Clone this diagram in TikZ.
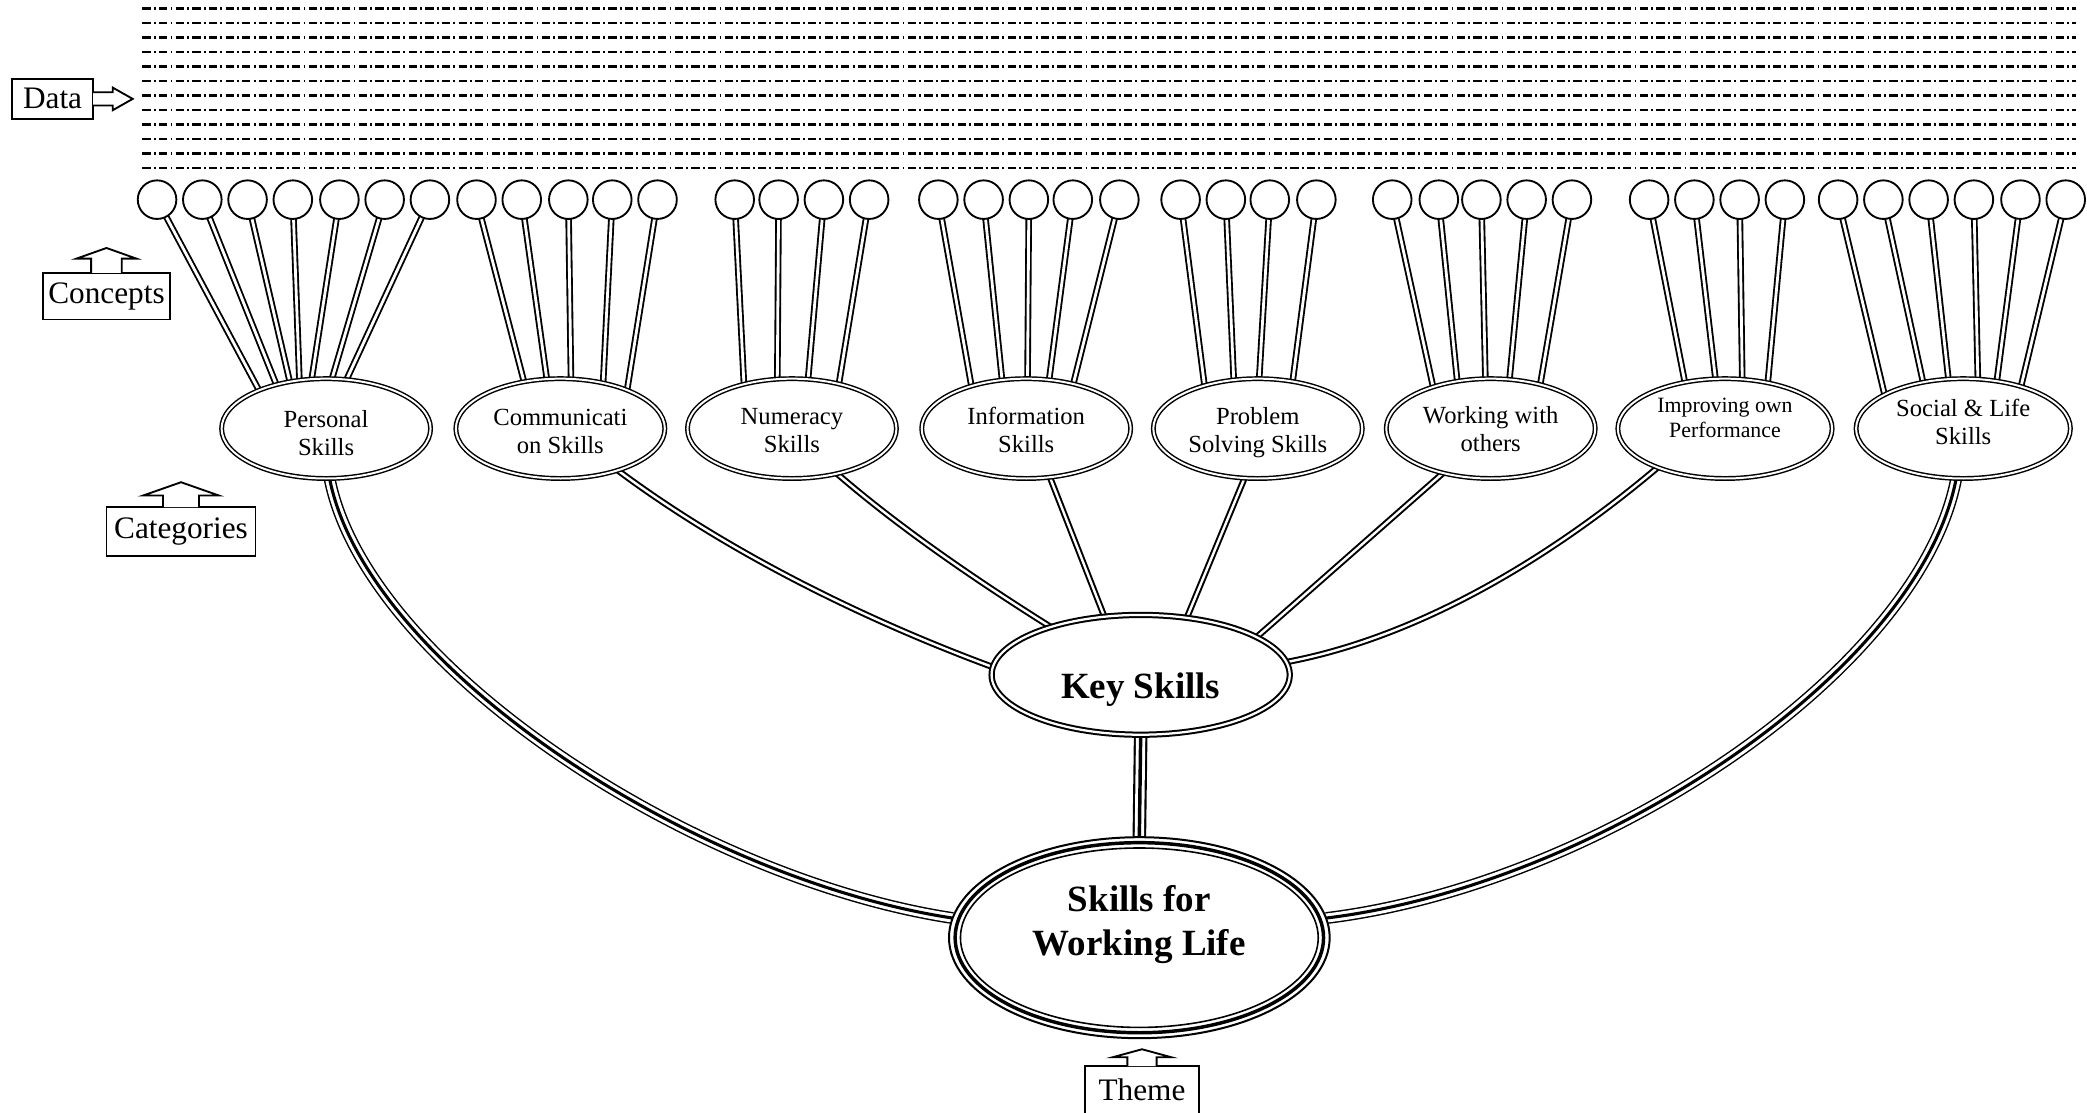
\documentclass[tikz,border=0pt]{standalone}
\usepackage{fontspec}
\setmainfont{Liberation Serif}
\usetikzlibrary{shapes.geometric,calc}
\pgfdeclarelayer{bg}
\pgfsetlayers{bg,main}
\newcommand\catfont{\fontsize{18.5}{21}\selectfont}
\newcommand\smcatfont{\fontsize{16.4}{19}\selectfont}
\newcommand\lblfont{\fontsize{23.5}{27}\selectfont}
\newcommand\bigfont{\fontsize{27.8}{33}\selectfont\bfseries}
\newcommand\cattext[2]{\raisebox{#1}[\height][\depth]{\begin{tabular}{@{}c@{}}#2\end{tabular}}}
\begin{document}
\begin{tikzpicture}[x=1pt,y=-1pt,
  concept/.style={circle, draw, line width=1.4pt, fill=white, minimum size=29pt, inner sep=0pt, outer sep=0pt},
  cat/.style={ellipse, draw, double, double distance=1.5pt, line width=1.1pt, fill=white,
     minimum width=157pt, minimum height=75pt, inner sep=0pt, outer sep=0pt, font=\catfont},
  keyn/.style={ellipse, draw, double, double distance=1.7pt, line width=1.5pt, fill=white,
     minimum width=224pt, minimum height=90pt, inner sep=0pt, outer sep=0pt, font=\bigfont},
  swln/.style={ellipse, draw, line width=1.5pt, fill=white,
     minimum width=286pt, minimum height=151pt, inner sep=0pt, outer sep=0pt, font=\bigfont},
  spoke/.style={double, double distance=2.1pt, line width=1.4pt, shorten >=-8pt},
  link/.style={double, double distance=1.8pt, line width=1.5pt},
  trunk/.style={double, double distance=6.8pt, line width=1.1pt},
  trunkmid/.style={line width=2.3pt},
  lbl/.style={draw, line width=1.4pt, fill=white, inner sep=0pt, font=\lblfont},
  lblarrow/.style={draw, line width=1.4pt, fill=white, line join=miter},
  dataline/.style={line width=2pt, dash pattern=on 6.2pt off 2.4pt on 1.4pt off 2.5pt}
]
\useasboundingbox (0,0) rectangle (1568,836);

% data lines
\foreach \k in {0,...,11}
  \draw[dataline] (107,{6.3+10.9*\k}) -- (1560,{6.3+10.9*\k});

% label boxes
\node[lbl, minimum width=61pt, minimum height=30pt] (dat) at (39.5,74.3) {Data};
\node[lbl, minimum width=96pt, minimum height=35pt] (cpt) at (80,222.5) {Concepts};
\node[lbl, minimum width=112pt, minimum height=37pt] (catl) at (136,399.5) {Categories};
\node[lbl, minimum width=86pt, minimum height=36pt] (thm) at (858,819) {Theme};

% label arrows
\filldraw[lblarrow] ($(dat.east)+(-0.7,-5)$) -- ($(dat.east)+(14,-5)$) -- ($(dat.east)+(14,-8.5)$)
  -- ($(dat.east)+(29,0)$) -- ($(dat.east)+(14,8.5)$) -- ($(dat.east)+(14,5)$) -- ($(dat.east)+(-0.7,5)$);
\filldraw[lblarrow] ($(cpt.north)+(-11.5,0.7)$) -- ($(cpt.north)+(-11.5,-10)$) -- ($(cpt.north)+(-22.5,-10)$)
  -- ($(cpt.north)+(0,-18)$) -- ($(cpt.north)+(22.5,-10)$) -- ($(cpt.north)+(11.5,-10)$) -- ($(cpt.north)+(11.5,0.7)$);
\filldraw[lblarrow] ($(catl.north)+(-13.5,0.7)$) -- ($(catl.north)+(-13.5,-8)$) -- ($(catl.north)+(-28.5,-8)$)
  -- ($(catl.north)+(0,-18)$) -- ($(catl.north)+(28.5,-8)$) -- ($(catl.north)+(13.5,-8)$) -- ($(catl.north)+(13.5,0.7)$);
\filldraw[lblarrow] ($(thm.north)+(-11,0.7)$) -- ($(thm.north)+(-11,-6)$) -- ($(thm.north)+(-22,-6)$)
  -- ($(thm.north)+(0,-12)$) -- ($(thm.north)+(22,-6)$) -- ($(thm.north)+(11,-6)$) -- ($(thm.north)+(11,0.7)$);

% concept circles
\foreach \x [count=\i] in {118,152,186,220,255,289,323, 358,392,427,460,494, 552,585,619,653,
   705,739,773,806,841, 887,921,954,989, 1046,1081,1113,1147,1181, 1239,1273,1307,1341,
   1381,1415,1449,1483,1518,1552}
  \node[concept] (c\i) at (\x,150) {};

% categories
\node[cat] (pers) at (245,322) {\cattext{-5.3pt}{Personal\\Skills}};
\node[cat] (comm) at (421,322) {\cattext{-4.3pt}{Communicati\\on Skills}};
\node[cat] (num)  at (595,322) {\cattext{-3.3pt}{Numeracy\\Skills}};
\node[cat] (info) at (771,322) {\cattext{-3.3pt}{Information\\Skills}};
\node[cat] (prob) at (945,322) {\cattext{-2.9pt}{Problem\\Solving Skills}};
\node[cat] (work) at (1120,322) {\cattext{-2.3pt}{Working with\\others}};
\node[cat, minimum width=161pt, font=\smcatfont] (impr) at (1296,322) {\cattext{6.3pt}{Improving own\\Performance}};
\node[cat, minimum width=161pt] (soc) at (1475,322) {\cattext{2.7pt}{Social \& Life\\Skills}};

% key skills and theme
\node[keyn] (key) at (857,507) {\raisebox{-11pt}[\height][\depth]{Key Skills}};
\node[swln] (swl) at (856,704.5) {\raisebox{9.6pt}[\height][\depth]{\begin{tabular}{@{}c@{}}Skills for\\Working Life\end{tabular}}};
\draw[line width=2.6pt] (swl.center) ellipse [x radius=138.4, y radius=71.4];
\draw[line width=1.2pt] (swl.center) ellipse [x radius=134.4, y radius=67.4];

\begin{pgfonlayer}{bg}
  \foreach \i/\n/\dx/\dy in {1/pers/-50/-28, 2/pers/-37/-32, 3/pers/-27/-34, 4/pers/-20/-35,
     5/pers/-11/-36, 6/pers/4/-36, 7/pers/15/-36,
     8/comm/-27/-34, 9/comm/-10/-36, 10/comm/8/-36, 11/comm/32/-32, 12/comm/50/-28,
     13/num/-36/-32, 14/num/-11/-36, 15/num/12/-36, 16/num/35/-32,
     17/info/-41/-31, 18/info/-18/-35, 19/info/1/-37, 20/info/17/-35, 21/info/35/-32,
     22/prob/-40/-32, 23/prob/-18/-35, 24/prob/1/-37, 25/prob/26/-34,
     26/work/-43/-30, 27/work/-25/-34, 28/work/-4/-37, 29/work/14/-36, 30/work/37/-32,
     31/impr/-30/-34, 32/impr/-7/-36, 33/impr/13/-36, 34/impr/32/-33,
     35/soc/-59/-25, 36/soc/-30/-34, 37/soc/-11/-36, 38/soc/11/-36, 39/soc/25/-34, 40/soc/43/-30}
    \draw[spoke] (c\i) -- ($(\n.center)+(\dx,\dy)$);

  \draw[link] (comm.-36) .. controls (540,410) and (640,462) .. (key.177);
  \draw[link] (num.-45) .. controls (680,400) and (740,440) .. (key.152);
  \draw[link] (info.-64) -- (key.122);
  \draw[link] (prob.-105) -- (key.51);
  \draw[link] (work.-137) -- (key.18);
  \draw[link] (impr.-150) .. controls (1170,415) and (1070,478) .. (key.5);

  \draw[trunk] (pers.-86) .. controls (275,500) and (520,660) .. (swl.174);
  \draw[trunkmid] (pers.-86) .. controls (275,500) and (520,660) .. (swl.174);
  \draw[trunk] (soc.-98) .. controls (1442,505) and (1200,665) .. (swl.6);
  \draw[trunkmid] (soc.-98) .. controls (1442,505) and (1200,665) .. (swl.6);
  \draw[trunk, line width=1.6pt, double distance=7pt] (key.south) -- (swl.north);
  \draw[trunkmid, line width=2.6pt] (key.south) -- (swl.north);
\end{pgfonlayer}
\end{tikzpicture}
\end{document}
